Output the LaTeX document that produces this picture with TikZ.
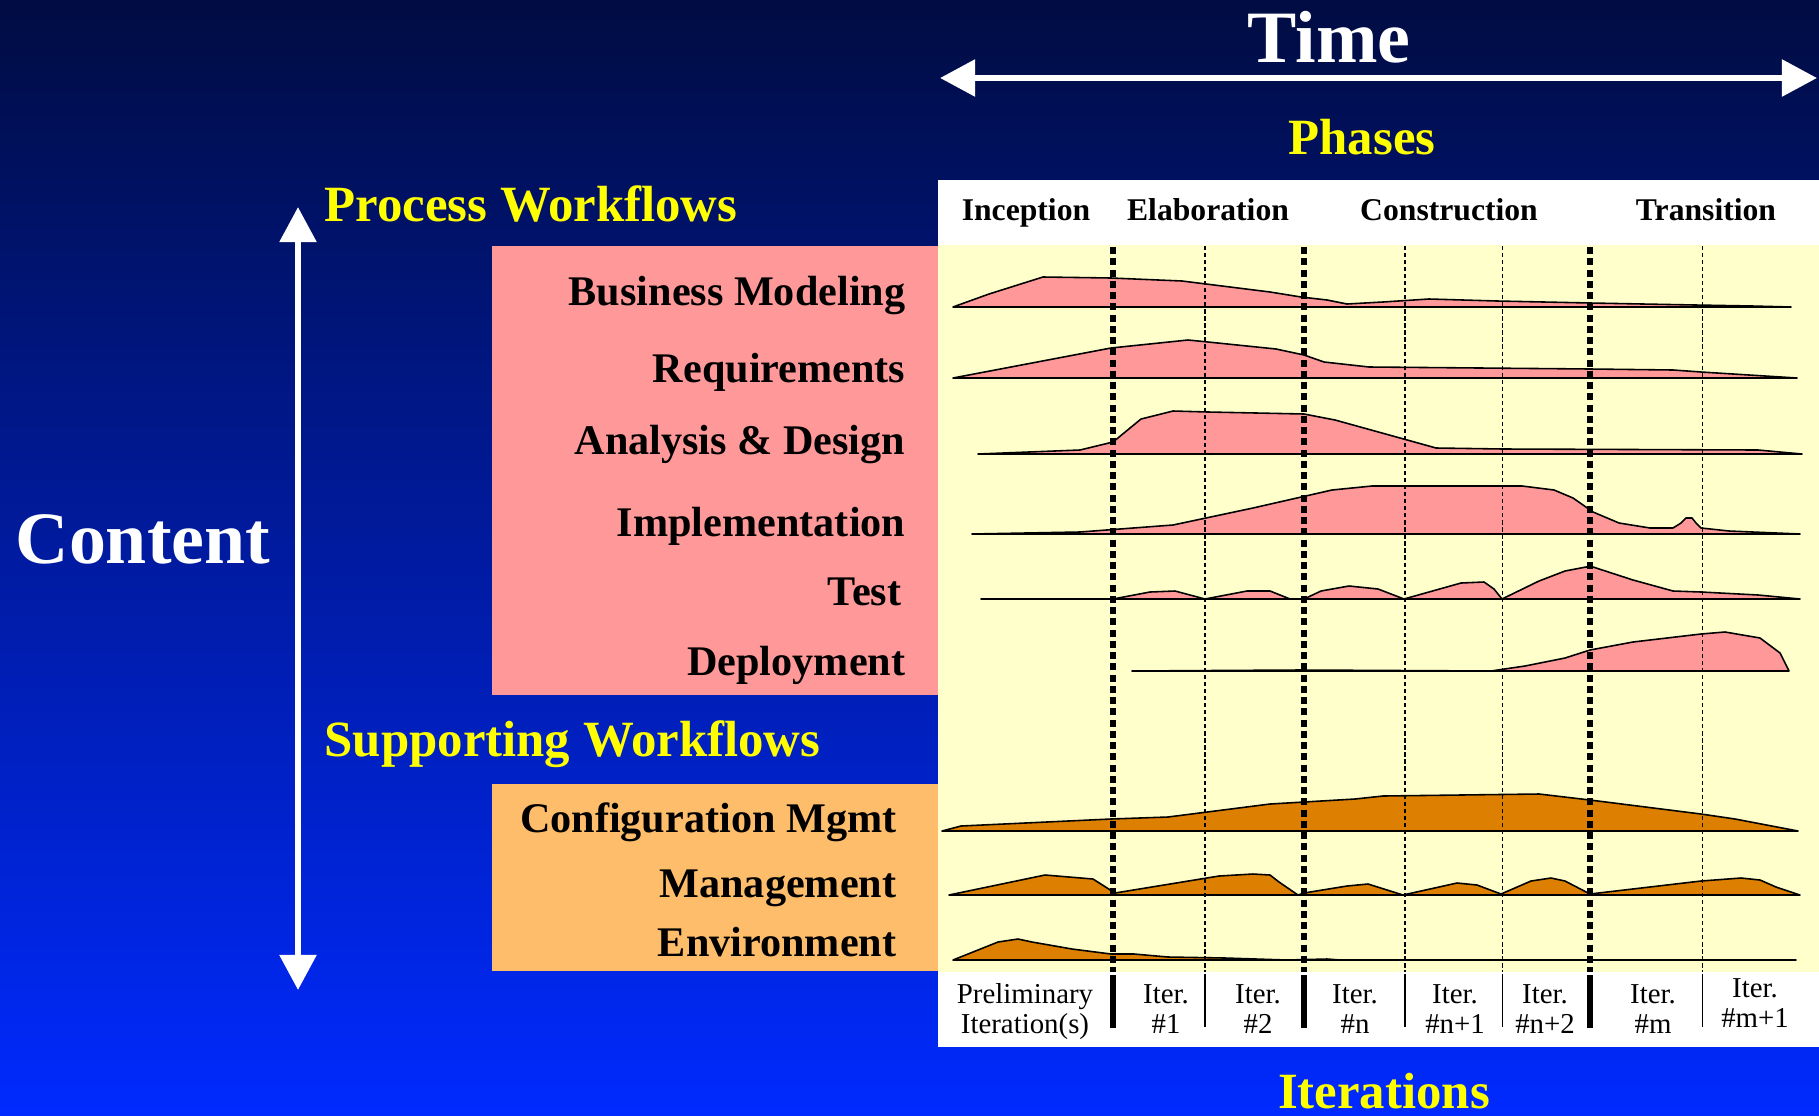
\documentclass[tikz,border=0pt]{standalone}
\usepackage{fontspec}
\setmainfont{Liberation Serif}
\usetikzlibrary{arrows.meta}
\definecolor{bgtop}{RGB}{0,12,66}
\definecolor{bgmid}{RGB}{0,30,180}
\definecolor{bgbot}{RGB}{0,42,255}
\definecolor{boxpink}{RGB}{255,153,153}
\definecolor{boxorange}{RGB}{253,189,107}
\definecolor{humporange}{RGB}{221,127,0}
\definecolor{chartyellow}{RGB}{255,255,204}
\definecolor{titleyellow}{RGB}{255,255,0}
\begin{document}
\begin{tikzpicture}[x=0.01cm,y=-0.01cm,
  bigtitle/.style={inner sep=0pt,text=white,font=\fontsize{21}{24}\selectfont\bfseries},
  yellowtitle/.style={inner sep=0pt,text=titleyellow,font=\fontsize{14.45}{17}\selectfont\bfseries},
  wlabel/.style={inner sep=0pt,anchor=base east,text=black,font=\fontsize{12}{14}\selectfont\bfseries},
  phlabel/.style={inner sep=0pt,anchor=base,text=black,font=\fontsize{9}{11}\selectfont\bfseries},
  itlabel/.style={inner sep=0pt,anchor=base,text=black,font=\fontsize{8.2}{10}\selectfont},
  whitearrow/.style={draw=white,line width=1.8pt,{Triangle[length=10pt,width=10.2pt]}-{Triangle[length=10pt,width=10.2pt]}},
  thickdot/.style={draw=black,line width=1.6pt,dash pattern=on 2pt off 1.2pt},
  thindash/.style={draw=black,line width=0.3pt,dash pattern=on 1.2pt off 0.8pt},
  thickbar/.style={draw=black,line width=1.7pt},
  thinbar/.style={draw=black,line width=0.3pt},
  humpp/.style={fill=boxpink,draw=black,line width=0.45pt,line join=round},
  humpo/.style={fill=humporange,draw=black,line width=0.45pt,line join=round}]
\useasboundingbox (0,0) rectangle (1819,1115);
% background
\shade[top color=bgtop,middle color=bgmid,bottom color=bgbot] (0,0) rectangle (1819,1115);
% boxes
\fill[boxpink] (492,246) rectangle (939,695);
\fill[boxorange] (492,784) rectangle (939,971);
\fill[white] (938,180) rectangle (1819,245);
\fill[chartyellow] (938,245) rectangle (1819,972);
\fill[white] (938,972) rectangle (1819,1047);
% humps - process workflows
\filldraw[humpp] (953,307) -- (989,294) -- (1043,277) -- (1111,278) -- (1182,281) -- (1230,287) -- (1270,292) -- (1301,297) -- (1327,300) -- (1347,304) -- (1383,302) -- (1429,299) -- (1497,301) -- (1590,303) -- (1695,305) -- (1752,306) -- (1791,307) -- cycle;
\filldraw[humpp] (953,378) -- (1111,348) -- (1188,340) -- (1208,342) -- (1276,349) -- (1304,355) -- (1324,362) -- (1369,367) -- (1590,369) -- (1673,370) -- (1701,372) -- (1797,378) -- cycle;
\filldraw[humpp] (978,454) -- (1080,450) -- (1113,442) -- (1141,419) -- (1173,411) -- (1208,412) -- (1304,414) -- (1335,420) -- (1400,438) -- (1436,448) -- (1503,449) -- (1758,450) -- (1802,454) -- cycle;
\filldraw[humpp] (972,534) -- (1080,532) -- (1173,525) -- (1253,508) -- (1332,490) -- (1372,486) -- (1522,486) -- (1554,490) -- (1573,498) -- (1593,512) -- (1619,523) -- (1650,528) -- (1673,528) -- (1681,523) -- (1686,518) -- (1692,518) -- (1696,523) -- (1701,528) -- (1729,531) -- (1800,534) -- cycle;
\filldraw[humpp] (981,599) -- (1113,599) -- (1150,592) -- (1175,591) -- (1205,599) -- (1247,591) -- (1270,591) -- (1290,599) -- (1304,599) -- (1321,591) -- (1349,586) -- (1378,589) -- (1404,599) -- (1461,583) -- (1484,582) -- (1494,589) -- (1502,599) -- (1539,581) -- (1565,571) -- (1586,567) -- (1593,567) -- (1633,580) -- (1673,591) -- (1701,592) -- (1758,595) -- (1800,599) -- cycle;
\filldraw[humpp] (1132,671) -- (1300,670) -- (1491,671) -- (1525,666) -- (1565,658) -- (1590,650) -- (1633,642) -- (1701,634) -- (1725,632) -- (1760,638) -- (1780,653) -- (1789,671) -- cycle;
% humps - supporting workflows
\filldraw[humpo] (942,831) -- (961,826) -- (1111,819) -- (1168,817) -- (1270,804) -- (1355,799) -- (1383,796) -- (1539,794) -- (1590,800) -- (1701,814) -- (1735,819) -- (1798,831) -- cycle;
\filldraw[humpo] (949,895) -- (1045,875) -- (1093,879) -- (1115,893) -- (1219,876) -- (1253,874) -- (1270,875) -- (1279,882) -- (1298,895) -- (1304,893) -- (1347,886) -- (1368,884) -- (1403,895) -- (1457,883) -- (1477,885) -- (1501,894) -- (1531,881) -- (1551,878) -- (1565,881) -- (1590,894) -- (1701,881) -- (1741,878) -- (1760,880) -- (1776,887) -- (1800,895) -- cycle;
\filldraw[humpo] (953,960) -- (998,942) -- (1018,939) -- (1032,942) -- (1072,949) -- (1111,954) -- (1134,954) -- (1168,957) -- (1225,958) -- (1287,960) -- (1327,959) -- (1340,960) -- (1796,960) -- cycle;
% phase and iteration dividers
\foreach \x in {1113,1304,1590} {
  \draw[thickdot] (\x,247) -- (\x,972);
  \draw[thickbar] (\x,975) -- (\x,1028);
}
\foreach \x in {1205,1405,1502,1702} {
  \draw[thindash] (\x,246) -- (\x,972);
  \draw[thinbar] (\x,974) -- (\x,1027);
}
% arrows
\coordinate (tl) at (940,78);
\coordinate (tr) at (1817,78);
\draw[whitearrow] (tl) -- (tr);
\coordinate (ct) at (298,207);
\coordinate (cb) at (298,990);
\draw[whitearrow] (ct) -- (cb);
% titles
\node[bigtitle,anchor=base] (time) at (1329,62) {Time};
\node[bigtitle,anchor=base west] (content) at (15,563) {Content};
\node[yellowtitle,anchor=base] (phases) at (1362,154) {Phases};
\node[yellowtitle,anchor=base west] (pw) at (324,221) {Process Workflows};
\node[yellowtitle,anchor=base west] (sw) at (324,756) {Supporting Workflows};
\node[yellowtitle,anchor=base] (iters) at (1384,1108) {Iterations};
% phase headers
\node[phlabel] (inc) at (1026,220) {Inception};
\node[phlabel] (ela) at (1208,220) {Elaboration};
\node[phlabel] (con) at (1449,220) {Construction};
\node[phlabel] (tra) at (1706,220) {Transition};
% workflow labels
\node[wlabel] (bm) at (906,305) {Business Modeling};
\node[wlabel] (req) at (906,382) {Requirements};
\node[wlabel] (ad) at (906,454) {Analysis \& Design};
\node[wlabel] (impl) at (906,536) {Implementation};
\node[wlabel] (test) at (902,605) {Test};
\node[wlabel] (dep) at (906,675) {Deployment};
\node[wlabel] (cm) at (897,832) {Configuration Mgmt};
\node[wlabel] (mg) at (897,897) {Management};
\node[wlabel] (env) at (897,956) {Environment};
% iteration labels
\foreach \x/\a/\b/\y/\n in {1025/Preliminary/Iteration(s)/1003/p,1166/Iter./\#1/1003/i1,1258/Iter./\#2/1003/i2,1355/Iter./\#n/1003/in,1455/Iter./\#n+1/1003/in1,1545/Iter./\#n+2/1003/in2,1653/Iter./\#m/1003/im,1755/Iter./\#m+1/997/im1} {
  \node[itlabel] (\n a) at (\x,\y) {\a};
  \node[itlabel] (\n b) at (\x,\y+30) {\b};
}
\end{tikzpicture}
\end{document}
